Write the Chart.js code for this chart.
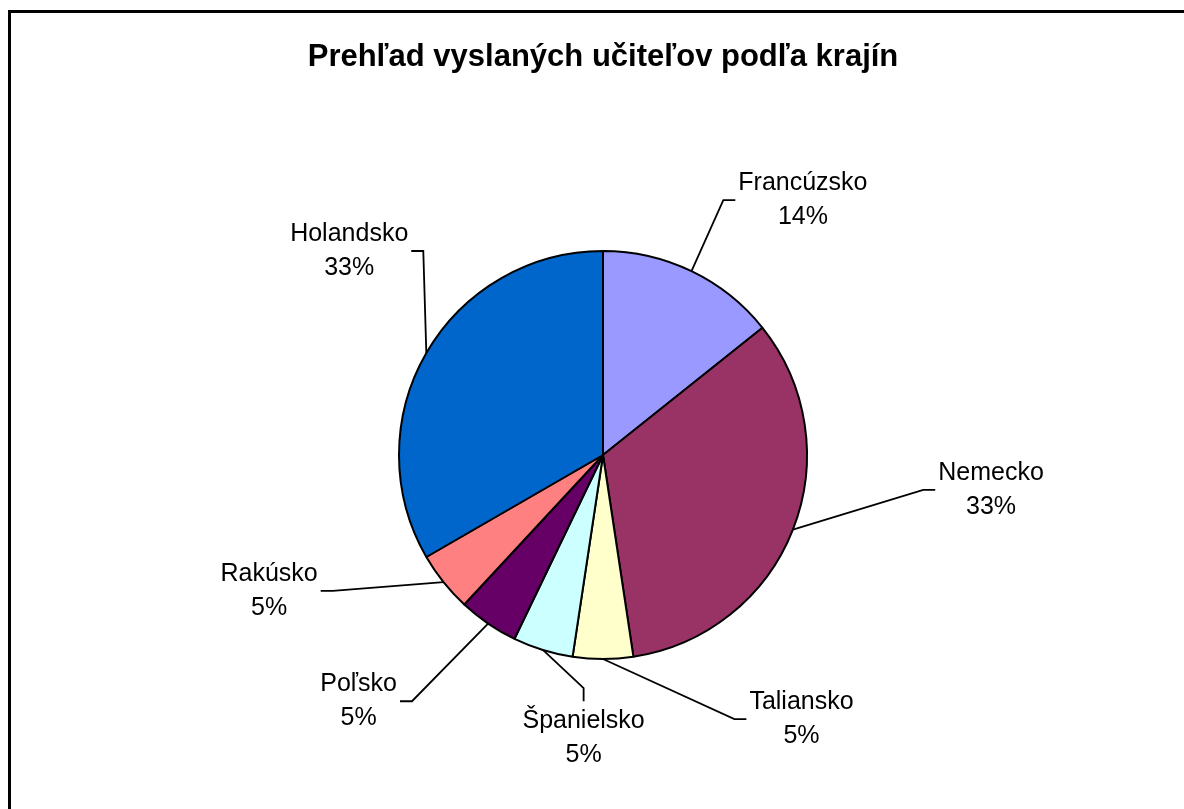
<!DOCTYPE html>
<html>
<head>
<meta charset="utf-8">
<script src="https://cdn.jsdelivr.net/npm/chart.js@4/dist/chart.umd.min.js"></script>
<style>
    html, body { margin: 0; padding: 0; background: #fff; overflow: hidden; }
    #wrap { position: relative; width: 1184px; height: 809px; }
</style>
</head>
<body>
<div id="wrap"><canvas id="pieChart"></canvas></div>
<script>
// Data
const countries = ['Francúzsko', 'Nemecko', 'Taliansko', 'Španielsko', 'Poľsko', 'Rakúsko', 'Holandsko'];
const teachers = [3, 7, 1, 1, 1, 1, 7];
const sliceColors = ['#9999FF', '#993366', '#FFFFCC', '#CCFFFF', '#660066', '#FF8080', '#0066CC'];
const chartTitle = 'Prehľad vyslaných učiteľov podľa krajín';

// label centre, in pie radii from the pie centre (x, y)
const labelOffsetX = [0.980, 1.902, 0.973, -0.095, -1.198, -1.637, -1.244];
const labelOffsetY = [-1.249, 0.171, 1.295, 1.388, 1.207, 0.666, -1.0];

const labelFont = '25px "Liberation Sans", Arial, sans-serif';

// outer frame of the chart object
const framePlugin = {
    id: 'frame',
    beforeDraw: (chart) => {
        const ctx = chart.ctx;
        ctx.save();
        ctx.fillStyle = '#fff';
        ctx.fillRect(0, 0, chart.width, chart.height);
        ctx.strokeStyle = '#000';
        ctx.lineWidth = 3;
        ctx.strokeRect(9.5, 11.5, chart.width + 20, chart.height + 20);
        ctx.restore();
    }
};

// data labels with leader lines, excel style
const leaderLabels = {
    id: 'leaderLabels',
    afterDatasetsDraw: (chart) => {
        const ctx = chart.ctx;
        const meta = chart.getDatasetMeta(0);
        const values = chart.data.datasets[0].data;
        const total = values.reduce((a, b) => a + b, 0);

        ctx.save();
        ctx.font = labelFont;
        ctx.fillStyle = '#000';
        ctx.strokeStyle = '#000';
        ctx.lineWidth = 1.8;

        meta.data.forEach((arc, i) => {
            const r = arc.outerRadius;
            const mid = (arc.startAngle + arc.endAngle) / 2;
            const sx = arc.x + Math.cos(mid) * r;
            const sy = arc.y + Math.sin(mid) * r;

            const cx = arc.x + labelOffsetX[i] * r;
            const cy = arc.y + labelOffsetY[i] * r;
            const lines = [chart.data.labels[i], Math.round(values[i] / total * 100) + '%'];
            const w = Math.max(...lines.map(t => ctx.measureText(t).width));
            const left = cx - w / 2;
            const right = cx + w / 2;

            let px, py, ex, ey;
            if (sx >= left && sx <= right) {
                px = cx; py = cy - 37;
                ex = cx; ey = cy - 50;
            } else if (sx < left) {
                px = left - 3; py = cy;
                ex = left - 15; ey = cy;
            } else {
                px = right + 3; py = cy;
                ex = right + 15; ey = cy;
            }

            ctx.beginPath();
            ctx.moveTo(sx, sy);
            ctx.lineTo(ex, ey);
            ctx.lineTo(px, py);
            ctx.stroke();

            ctx.textAlign = 'center';
            ctx.textBaseline = 'middle';
            ctx.fillText(lines[0], cx, cy - 17);
            ctx.fillText(lines[1], cx, cy + 17);
        });
        ctx.restore();
    }
};

new Chart(document.getElementById('pieChart').getContext('2d'), {
    type: 'pie',
    data: {
        labels: countries,
        datasets: [{
            data: teachers,
            backgroundColor: sliceColors,
            borderColor: '#000',
            borderWidth: 2,
            hoverOffset: 0,
        }],
    },
    options: {
        responsive: true,
        maintainAspectRatio: false,
        animation: false,
        radius: 204,
        layout: {
            padding: { top: 0, left: 22, right: 0, bottom: 71.6 }
        },
        plugins: {
            legend: { display: false },
            tooltip: { enabled: false },
            title: {
                display: true,
                text: chartTitle,
                color: '#000',
                font: { family: '"Liberation Sans", Arial, sans-serif', size: 31, weight: 'bold', lineHeight: 1.2 },
                padding: { top: 38.4, bottom: 97 }
            }
        }
    },
    plugins: [framePlugin, leaderLabels]
});
</script>
</body>
</html>
